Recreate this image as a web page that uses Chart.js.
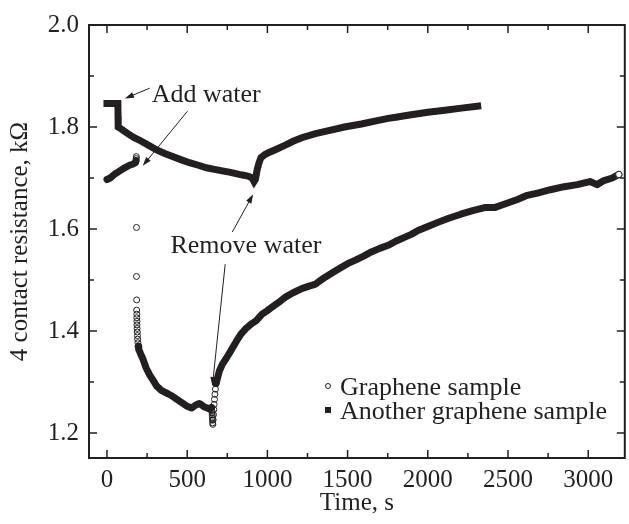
<!DOCTYPE html>
<html>
<head>
<meta charset="utf-8">
<script src="https://cdn.jsdelivr.net/npm/chart.js@4.4.0/dist/chart.umd.min.js"></script>
<style>
  html, body { margin: 0; padding: 0; background: #fff; }
</style>
</head>
<body>
<canvas id="chart" width="629" height="524"></canvas>
<script>
// Graphene sample (open circles)
const graphTime = [0, 20, 50, 80, 110, 140, 160, 178, 181, 182, 183,
    184, 184, 185, 185, 186, 186, 187, 187, 188, 189, 190, 191, 193, 195, 198,
    210, 223, 245, 266, 290, 310, 341, 380, 409, 450, 496, 527, 555, 576, 595, 607, 625, 640, 652,
    654, 655, 656, 657, 658, 659, 660, 662, 664, 666, 668, 670, 673, 676, 680,
    700, 720, 743, 770, 805, 835, 867, 900, 929, 967, 1000, 1029, 1070, 1115, 1160, 1214, 1260,
    1301, 1330, 1363, 1410, 1462, 1500, 1549, 1600, 1648, 1700, 1753, 1800, 1858, 1900, 1939,
    2000, 2063, 2130, 2206, 2280, 2354, 2416, 2480, 2559, 2620, 2690, 2764, 2850, 2931, 2970,
    3011, 3055, 3098, 3150, 3191];
const graphRes = [1.697, 1.700, 1.708, 1.714, 1.720, 1.725, 1.727, 1.730, 1.734, 1.738, 1.742,
    1.603, 1.507, 1.461, 1.441, 1.433, 1.426, 1.419, 1.412, 1.405, 1.398, 1.391, 1.384, 1.377, 1.370, 1.364,
    1.355, 1.346, 1.327, 1.314, 1.302, 1.292, 1.283, 1.277, 1.272, 1.263, 1.253, 1.249, 1.255, 1.258, 1.254, 1.251, 1.249, 1.247, 1.250,
    1.244, 1.240, 1.235, 1.230, 1.225, 1.220, 1.217, 1.226, 1.236, 1.246, 1.256, 1.266, 1.276, 1.286, 1.297,
    1.321, 1.335, 1.346, 1.360, 1.379, 1.394, 1.405, 1.414, 1.420, 1.433, 1.440, 1.447, 1.456, 1.467, 1.475, 1.483, 1.488,
    1.492, 1.499, 1.506, 1.515, 1.525, 1.532, 1.539, 1.547, 1.555, 1.562, 1.568, 1.576, 1.584, 1.590, 1.597,
    1.605, 1.613, 1.621, 1.629, 1.636, 1.642, 1.642, 1.649, 1.658, 1.666, 1.671, 1.677, 1.683, 1.687, 1.690,
    1.693, 1.687, 1.695, 1.700, 1.707];

// Another graphene sample (filled squares)
const otherTime = [0, 30, 68, 69, 70, 90, 130, 170, 204, 260, 310, 360, 409, 460, 514, 570, 620, 670, 719,
    770, 824, 860, 886, 905, 917, 925, 936, 948, 960, 985, 1010, 1060, 1115, 1160, 1214, 1300, 1382,
    1480, 1586, 1692, 1753, 1800, 1896, 2000, 2107, 2210, 2311];
const otherRes = [1.846, 1.846, 1.846, 1.822, 1.800, 1.796, 1.787, 1.779, 1.774, 1.764, 1.755, 1.748, 1.742, 1.736, 1.730, 1.725, 1.720, 1.717, 1.714,
    1.711, 1.707, 1.705, 1.703, 1.700, 1.693, 1.697, 1.716, 1.730, 1.740, 1.746, 1.750, 1.757, 1.765, 1.772, 1.779, 1.787, 1.793,
    1.800, 1.806, 1.813, 1.817, 1.819, 1.824, 1.829, 1.833, 1.837, 1.841];

const timeTicks = [0, 250, 500, 750, 1000, 1250, 1500, 1750, 2000, 2250, 2500, 2750, 3000];
const resTicks = [1.2, 1.3, 1.4, 1.5, 1.6, 1.7, 1.8, 1.9, 2.0];

const notes = [
    { text: 'Add water', x: 279, y: 1.8487 },
    { text: 'Remove water', x: 396, y: 1.5527 }
];
const arrows = [
    { from: [266, 1.876], to: [112, 1.856] },
    { from: [502, 1.831], to: [223, 1.724] },
    { from: [781, 1.594], to: [911, 1.668] },
    { from: [737, 1.531], to: [657, 1.292] }
];

const ink = '#231f20';
const serif = "'Liberation Serif', 'Times New Roman', serif";

function toPoints(xs, ys) {
    return xs.map((x, i) => ({ x: x, y: ys[i] }));
}

const graphPts = toPoints(graphTime, graphRes);
const otherPts = toPoints(otherTime, otherRes);

// steep jumps in the data show up as separate circles rather than a solid band
function isFast(pts, i, j) {
    const a = pts[i], b = pts[j];
    if (!a || !b) return false;
    const dx = Math.abs(b.x - a.x);
    return Math.abs(b.y - a.y) > 0.0025 * Math.max(dx, 0.01);
}

function isMajorTime(v) { return v % 500 === 0; }
function isMajorRes(v) { return Math.round(v * 10) % 2 === 0; }

const frame = {
    id: 'frame',
    afterDraw(chart) {
        const { ctx, chartArea: a, scales: { x, y } } = chart;
        ctx.save();
        ctx.strokeStyle = ink;
        ctx.lineWidth = 1.5;
        ctx.beginPath();
        x.ticks.forEach(t => {
            const px = x.getPixelForValue(t.value);
            const len = isMajorTime(t.value) ? 8 : 5;
            ctx.moveTo(px, a.bottom); ctx.lineTo(px, a.bottom - len);
            ctx.moveTo(px, a.top); ctx.lineTo(px, a.top + len);
        });
        y.ticks.forEach(t => {
            const py = y.getPixelForValue(t.value);
            const len = isMajorRes(t.value) ? 8 : 5;
            ctx.moveTo(a.left, py); ctx.lineTo(a.left + len, py);
            ctx.moveTo(a.right, py); ctx.lineTo(a.right - len, py);
        });
        ctx.stroke();
        ctx.lineWidth = 2;
        ctx.strokeRect(a.left, a.top, a.right - a.left, a.bottom - a.top);

        // annotations
        ctx.fillStyle = ink;
        ctx.font = '26px ' + serif;
        ctx.textAlign = 'left';
        ctx.textBaseline = 'alphabetic';
        notes.forEach(n => {
            ctx.fillText(n.text, x.getPixelForValue(n.x), y.getPixelForValue(n.y));
        });
        ctx.lineWidth = 1;
        arrows.forEach(ar => {
            const x0 = x.getPixelForValue(ar.from[0]), y0 = y.getPixelForValue(ar.from[1]);
            const x1 = x.getPixelForValue(ar.to[0]), y1 = y.getPixelForValue(ar.to[1]);
            const ang = Math.atan2(y1 - y0, x1 - x0);
            ctx.beginPath();
            ctx.moveTo(x0, y0);
            ctx.lineTo(x1 - 6 * Math.cos(ang), y1 - 6 * Math.sin(ang));
            ctx.stroke();
            ctx.beginPath();
            ctx.moveTo(x1, y1);
            ctx.lineTo(x1 - 9 * Math.cos(ang) + 3 * Math.sin(ang), y1 - 9 * Math.sin(ang) - 3 * Math.cos(ang));
            ctx.lineTo(x1 - 9 * Math.cos(ang) - 3 * Math.sin(ang), y1 - 9 * Math.sin(ang) + 3 * Math.cos(ang));
            ctx.closePath();
            ctx.fill();
        });

        // legend inside the plot
        const lx = a.left + 239;
        const rows = [a.top + 370, a.top + 394];
        chart.data.datasets.forEach((ds, i) => {
            const base = rows[i];
            const cy = base - 9;
            if (ds.pointStyle === 'rect') {
                ctx.fillRect(lx - 3, cy - 3, 6, 6);
            } else {
                ctx.beginPath();
                ctx.arc(lx, cy, 2.5, 0, Math.PI * 2);
                ctx.stroke();
            }
            ctx.fillText(ds.label, lx + 12, base);
        });
        ctx.restore();
    }
};

new Chart(document.getElementById('chart'), {
    type: 'line',
    data: {
        datasets: [
            {
                label: 'Graphene sample',
                data: graphPts,
                pointStyle: 'circle',
                borderColor: ink,
                borderWidth: 7,
                borderCapStyle: 'round',
                borderJoinStyle: 'round',
                tension: 0,
                segment: {
                    borderColor: ctx => isFast(graphPts, ctx.p0DataIndex, ctx.p1DataIndex) ? 'rgba(0,0,0,0)' : ink
                },
                pointRadius: ctx => {
                    const i = ctx.dataIndex;
                    if (i === graphPts.length - 1) return 3.2;
                    return (isFast(graphPts, i - 1, i) || isFast(graphPts, i, i + 1)) ? 3 : 0;
                },
                pointBorderColor: ink,
                pointBorderWidth: 1,
                pointBackgroundColor: ctx => ctx.dataIndex === graphPts.length - 1 ? '#fff' : 'rgba(255,255,255,0)',
                pointHoverRadius: 0
            },
            {
                label: 'Another graphene sample',
                data: otherPts,
                pointStyle: 'rect',
                borderColor: ink,
                backgroundColor: ink,
                borderWidth: 7,
                borderCapStyle: 'square',
                borderJoinStyle: 'miter',
                tension: 0,
                pointRadius: 0,
                pointHoverRadius: 0
            }
        ]
    },
    options: {
        responsive: false,
        animation: false,
        events: [],
        layout: { padding: { top: 22, right: 1, left: 0, bottom: 0 } },
        plugins: {
            legend: { display: false },
            tooltip: { enabled: false }
        },
        scales: {
            x: {
                type: 'linear',
                min: -112,
                max: 3228,
                afterBuildTicks: scale => { scale.ticks = timeTicks.map(v => ({ value: v })); },
                afterFit: scale => { scale.height = 66; },
                grid: { display: false, drawTicks: false },
                border: { display: false },
                ticks: {
                    padding: 7,
                    maxRotation: 0,
                    autoSkip: false,
                    color: ink,
                    font: { family: serif, size: 25 },
                    callback: v => isMajorTime(v) ? String(v) : ''
                },
                title: {
                    display: true,
                    text: 'Time, s',
                    color: ink,
                    font: { family: serif, size: 25 },
                    padding: { top: 0, bottom: 6 }
                }
            },
            y: {
                type: 'linear',
                min: 1.151,
                max: 2.0,
                afterBuildTicks: scale => { scale.ticks = resTicks.map(v => ({ value: v })); },
                afterFit: scale => { scale.width = 89; },
                grid: { display: false, drawTicks: false },
                border: { display: false },
                ticks: {
                    padding: 10,
                    autoSkip: false,
                    color: ink,
                    font: { family: serif, size: 25 },
                    callback: v => isMajorRes(v) ? v.toFixed(1) : ''
                },
                title: {
                    display: true,
                    text: '4 contact resistance, kΩ',
                    color: ink,
                    font: { family: serif, size: 25 },
                    padding: { top: 5, bottom: 0 }
                }
            }
        }
    },
    plugins: [frame]
});
</script>
</body>
</html>
